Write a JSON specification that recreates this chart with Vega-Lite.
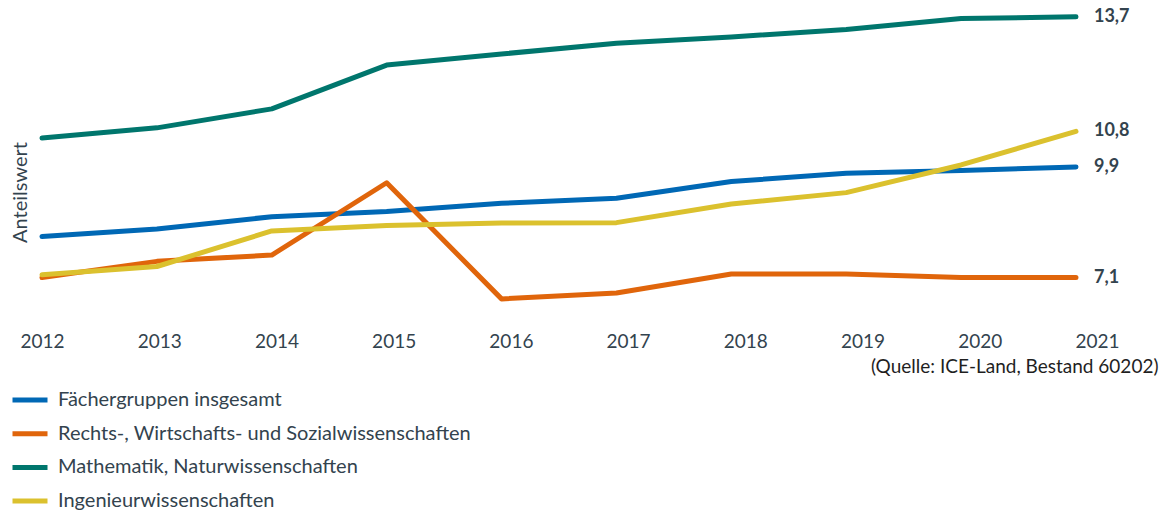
{
  "$schema": "https://vega.github.io/schema/vega-lite/v6.json",
  "width": 1055,
  "height": 316,
  "autosize": {"type": "none"},
  "padding": {"left": 42, "top": 5, "right": 65, "bottom": 192},
  "config": {
    "font": "Lato",
    "view": {"stroke": null},
    "locale": {"number": {"decimal": ",", "thousands": ".", "grouping": [3], "currency": ["", " €"]}}
  },
  "data": {
    "values": [
      {"year": 2012, "gruppe": "Fächergruppen insgesamt", "wert": 8.14},
      {"year": 2013, "gruppe": "Fächergruppen insgesamt", "wert": 8.33},
      {"year": 2014, "gruppe": "Fächergruppen insgesamt", "wert": 8.64},
      {"year": 2015, "gruppe": "Fächergruppen insgesamt", "wert": 8.77},
      {"year": 2016, "gruppe": "Fächergruppen insgesamt", "wert": 8.98},
      {"year": 2017, "gruppe": "Fächergruppen insgesamt", "wert": 9.11},
      {"year": 2018, "gruppe": "Fächergruppen insgesamt", "wert": 9.53},
      {"year": 2019, "gruppe": "Fächergruppen insgesamt", "wert": 9.74},
      {"year": 2020, "gruppe": "Fächergruppen insgesamt", "wert": 9.81},
      {"year": 2021, "gruppe": "Fächergruppen insgesamt", "wert": 9.9},
      {"year": 2012, "gruppe": "Rechts-, Wirtschafts- und Sozialwissenschaften", "wert": 7.1},
      {"year": 2013, "gruppe": "Rechts-, Wirtschafts- und Sozialwissenschaften", "wert": 7.51},
      {"year": 2014, "gruppe": "Rechts-, Wirtschafts- und Sozialwissenschaften", "wert": 7.67},
      {"year": 2015, "gruppe": "Rechts-, Wirtschafts- und Sozialwissenschaften", "wert": 9.5},
      {"year": 2016, "gruppe": "Rechts-, Wirtschafts- und Sozialwissenschaften", "wert": 6.56},
      {"year": 2017, "gruppe": "Rechts-, Wirtschafts- und Sozialwissenschaften", "wert": 6.71},
      {"year": 2018, "gruppe": "Rechts-, Wirtschafts- und Sozialwissenschaften", "wert": 7.19},
      {"year": 2019, "gruppe": "Rechts-, Wirtschafts- und Sozialwissenschaften", "wert": 7.19},
      {"year": 2020, "gruppe": "Rechts-, Wirtschafts- und Sozialwissenschaften", "wert": 7.1},
      {"year": 2021, "gruppe": "Rechts-, Wirtschafts- und Sozialwissenschaften", "wert": 7.1},
      {"year": 2012, "gruppe": "Mathematik, Naturwissenschaften", "wert": 10.63},
      {"year": 2013, "gruppe": "Mathematik, Naturwissenschaften", "wert": 10.89},
      {"year": 2014, "gruppe": "Mathematik, Naturwissenschaften", "wert": 11.37},
      {"year": 2015, "gruppe": "Mathematik, Naturwissenschaften", "wert": 12.48},
      {"year": 2016, "gruppe": "Mathematik, Naturwissenschaften", "wert": 12.76},
      {"year": 2017, "gruppe": "Mathematik, Naturwissenschaften", "wert": 13.03},
      {"year": 2018, "gruppe": "Mathematik, Naturwissenschaften", "wert": 13.19},
      {"year": 2019, "gruppe": "Mathematik, Naturwissenschaften", "wert": 13.38},
      {"year": 2020, "gruppe": "Mathematik, Naturwissenschaften", "wert": 13.66},
      {"year": 2021, "gruppe": "Mathematik, Naturwissenschaften", "wert": 13.7},
      {"year": 2012, "gruppe": "Ingenieurwissenschaften", "wert": 7.17},
      {"year": 2013, "gruppe": "Ingenieurwissenschaften", "wert": 7.38},
      {"year": 2014, "gruppe": "Ingenieurwissenschaften", "wert": 8.28},
      {"year": 2015, "gruppe": "Ingenieurwissenschaften", "wert": 8.42},
      {"year": 2016, "gruppe": "Ingenieurwissenschaften", "wert": 8.48},
      {"year": 2017, "gruppe": "Ingenieurwissenschaften", "wert": 8.49},
      {"year": 2018, "gruppe": "Ingenieurwissenschaften", "wert": 8.96},
      {"year": 2019, "gruppe": "Ingenieurwissenschaften", "wert": 9.25},
      {"year": 2020, "gruppe": "Ingenieurwissenschaften", "wert": 9.95},
      {"year": 2021, "gruppe": "Ingenieurwissenschaften", "wert": 10.8}
    ]
  },
  "layer": [
    {
      "mark": {"type": "line", "strokeWidth": 5, "strokeCap": "round", "strokeJoin": "round"},
      "encoding": {
        "x": {"field": "year", "type": "quantitative", "scale": {"domain": [2012, 2021.183], "nice": false, "zero": false}, "axis": null},
        "y": {
          "field": "wert", "type": "quantitative",
          "scale": {"domain": [6, 14], "nice": false, "zero": false},
          "axis": {
            "title": "Anteilswert", "labels": false, "ticks": false, "domain": false, "grid": false,
            "titleFontSize": 20, "titleFontWeight": "normal", "titleColor": "#33434e",
            "titleX": -16, "titleY": 187, "titleBaseline": "alphabetic", "titleAngle": -90, "titleAlign": "center"
          }
        },
        "color": {
          "field": "gruppe", "type": "nominal",
          "scale": {
            "domain": ["Fächergruppen insgesamt", "Rechts-, Wirtschafts- und Sozialwissenschaften", "Mathematik, Naturwissenschaften", "Ingenieurwissenschaften"],
            "range": ["#0068b5", "#e0650b", "#00766d", "#dbc12e"]
          },
          "legend": {
            "title": null, "orient": "none", "legendX": -32, "legendY": 375, "direction": "vertical", "columns": 1,
            "symbolType": "stroke", "symbolSize": 1225, "symbolStrokeWidth": 5,
            "labelFontSize": 20, "labelColor": "#33434e", "labelOffset": 8, "rowPadding": 3.7, "labelLimit": 700
          }
        }
      }
    },
    {
      "transform": [{"filter": "datum.year == 2021"}],
      "mark": {"type": "text", "align": "left", "baseline": "middle", "dx": 18, "fontWeight": "bold", "fontSize": 18, "color": "#33434e"},
      "encoding": {
        "x": {"field": "year", "type": "quantitative", "scale": {"domain": [2012, 2021.183], "nice": false, "zero": false}, "axis": null},
        "y": {"field": "wert", "type": "quantitative"},
        "text": {"field": "wert", "type": "quantitative", "format": ".1f"}
      }
    },
    {
      "mark": {"type": "point", "opacity": 0},
      "encoding": {
        "x": {
          "field": "year", "type": "quantitative", "scale": {"domain": [2012, 2021], "nice": false, "zero": false},
          "axis": {
            "values": [2012, 2013, 2014, 2015, 2016, 2017, 2018, 2019, 2020, 2021], "format": "d",
            "ticks": false, "domain": false, "grid": false, "labelFlush": false, "labelOverlap": false,
            "labelFontSize": 19, "labelColor": "#33434e", "labelPadding": 11,
            "title": "(Quelle: ICE-Land, Bestand 60202)", "titleFontSize": 19, "titleFontWeight": "normal", "titleColor": "#1f1f1f",
            "titleX": 1116, "titleY": 51, "titleAlign": "right", "titleBaseline": "alphabetic"
          }
        },
        "y": {"field": "wert", "type": "quantitative"}
      }
    }
  ],
  "resolve": {"scale": {"x": "independent"}}
}
